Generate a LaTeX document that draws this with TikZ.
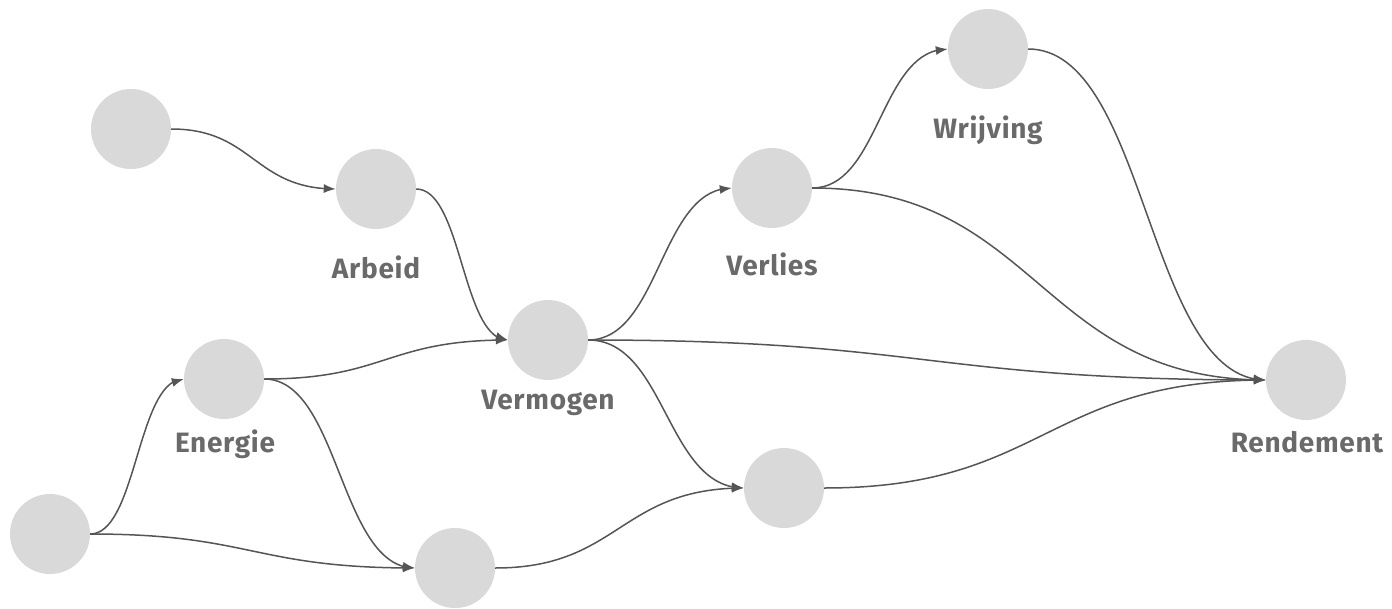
\documentclass[tikz,border=0pt]{standalone}
\usepackage{fontspec}
\setmainfont{Fira Sans}
\newfontfamily\labfont{Fira Sans}[LetterSpace=2.5]
\usetikzlibrary{arrows.meta,bending,calc}
\definecolor{nodefill}{HTML}{D9D9D9}
\definecolor{edgecol}{HTML}{555555}
\definecolor{labcol}{HTML}{6A6A6A}
\tikzset{
  circ/.style={circle,fill=nodefill,draw=none,minimum size=80pt,inner sep=0pt},
  lab/.style={text=labcol,font=\labfont\fontsize{28}{32}\selectfont\bfseries,inner sep=0pt,anchor=center},
  link/.style={draw=edgecol,line width=1.5pt,-{Latex[length=12pt,width=9pt,flex]}}
}
\newcommand{\lnk}[2]{%
  \path let \p1=(#1.east), \p2=(#2.west), \n1={(\x2-\x1)/2} in
    [link] (\p1) .. controls +(\n1,0) and ($(\p2)+(-\n1,0)$) .. (\p2);}
\begin{document}
\begin{tikzpicture}[x=1pt,y=-1pt]
\useasboundingbox (0,0) rectangle (1392,608);
\node[circ] (a) at (131,129) {};
\node[circ] (arbeid) at (376,189) {};
\node[circ] (energie) at (224,379) {};
\node[circ] (bl) at (50,534) {};
\node[circ] (bm) at (455,568) {};
\node[circ] (vermogen) at (548,340) {};
\node[circ] (verlies) at (772,188) {};
\node[circ] (wrijving) at (988,49) {};
\node[circ] (br) at (784,488) {};
\node[circ] (rendement) at (1306,380) {};
\node[lab] (larbeid) at (376,267) {Arbeid};
\node[lab] (lenergie) at (225,444) {Energie};
\node[lab] (lvermogen) at (548,403) {Vermogen};
\node[lab] (lverlies) at (772,264) {Verlies};
\node[lab] (lwrijving) at (988,130) {Wrijving};
\node[lab] (lrendement) at (1307,442) {Rendement};
\lnk{a}{arbeid}
\lnk{arbeid}{vermogen}
\lnk{energie}{vermogen}
\lnk{energie}{bm}
\lnk{bl}{energie}
\lnk{bl}{bm}
\lnk{bm}{br}
\lnk{vermogen}{verlies}
\lnk{vermogen}{rendement}
\lnk{vermogen}{br}
\lnk{verlies}{wrijving}
\lnk{verlies}{rendement}
\lnk{wrijving}{rendement}
\lnk{br}{rendement}
\end{tikzpicture}
\end{document}
